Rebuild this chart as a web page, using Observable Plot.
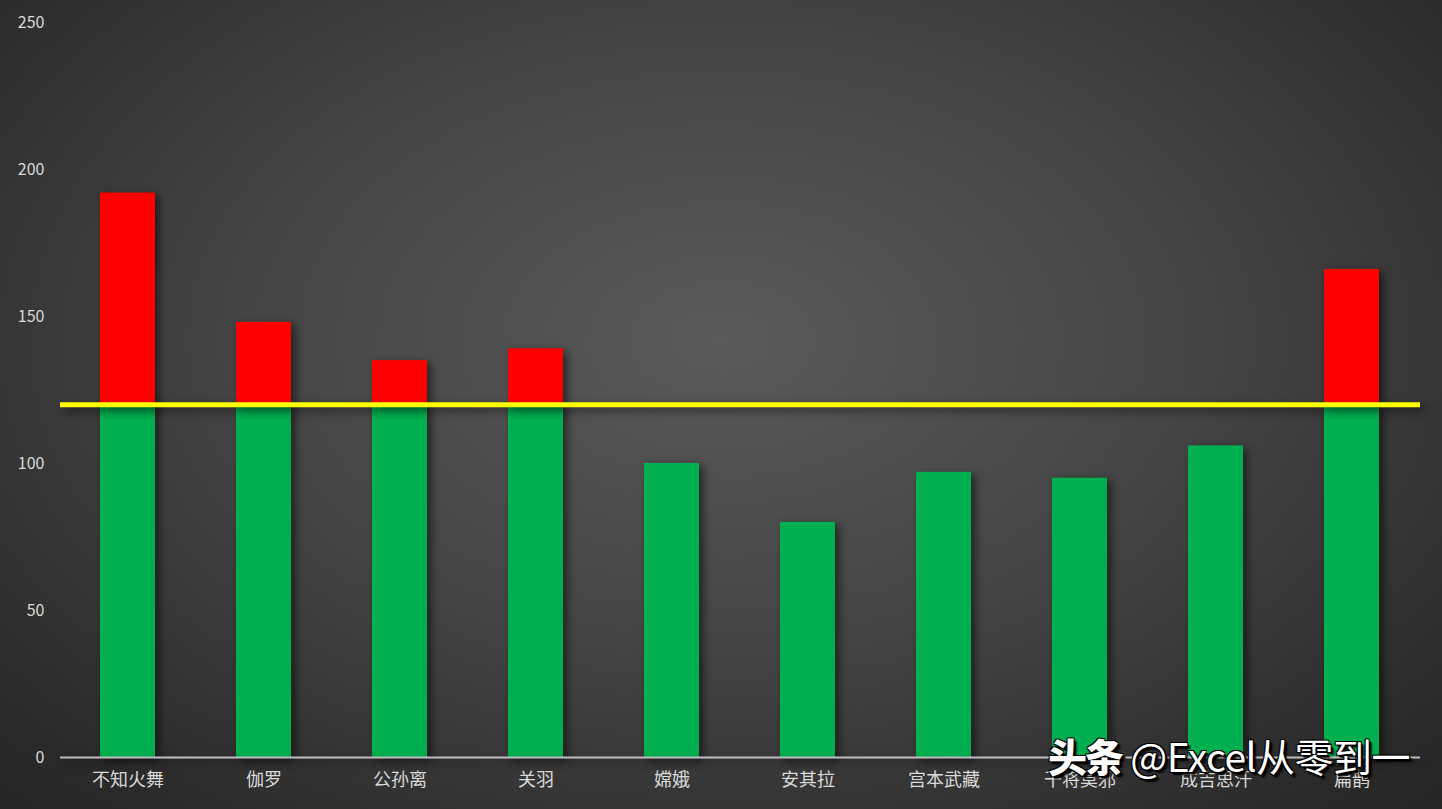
<!DOCTYPE html>
<html>
<head>
<meta charset="utf-8">
<script src="https://cdn.jsdelivr.net/npm/d3@7"></script>
<script src="https://cdn.jsdelivr.net/npm/@observablehq/plot@0.6"></script>
<style>
  html, body { margin: 0; padding: 0; }
  body { width: 1442px; height: 809px; overflow: hidden; }
  #wrap {
    position: relative; width: 1442px; height: 809px;
    background: radial-gradient(ellipse 75% 85% at 50% 42%, #5a5a5a 0%, #444 45%, #2a2a2a 85%, #242424 100%);
    font-family: "Noto Sans CJK SC", "Noto Sans", sans-serif;
  }
  #wrap svg { position: absolute; left: 0; top: 0; background: transparent; }
  #wrap svg g[aria-label="bar"] { filter: drop-shadow(4px 3px 4px rgba(0,0,0,0.55)); }
  #wrap svg g[aria-label="rule"] { filter: drop-shadow(5px 4px 4px rgba(0,0,0,0.5)); }
  #wm {
    position: absolute; left: 1048px; top: 736px;
    font-family: "Noto Sans CJK SC", sans-serif; font-weight: 400; font-size: 39px;
    color: #fff; letter-spacing: -0.5px; line-height: 1;
    text-shadow: 2px 2px 0 #000, -1px -1px 0 #000, 1px -1px 0 #000, -1px 1px 0 #000, 3px 3px 2px #000;
    white-space: nowrap;
  }
  #wm b { font-weight: 900; letter-spacing: -2px; }
</style>
</head>
<body>
<div id="wrap"></div>
<script>
const categories = ["不知火舞", "伽罗", "公孙离", "关羽", "嫦娥", "安其拉", "宫本武藏", "干将莫邪", "成吉思汗", "扁鹊"];
const values = [192, 148, 135, 139, 100, 80, 97, 95, 106, 166];
const threshold = 120;
const yTicks = [0, 50, 100, 150, 200, 250];

const data = categories.map((c, i) => ({ name: c, value: values[i] }));
const below = data.map(d => ({ name: d.name, y1: 0, y2: Math.min(d.value, threshold) }));
const above = data.filter(d => d.value > threshold).map(d => ({ name: d.name, y1: threshold, y2: d.value }));

const chart = Plot.plot({
  width: 1442,
  height: 809,
  marginLeft: 60,
  marginRight: 22,
  marginTop: 22,
  marginBottom: 52,
  style: { background: "transparent", color: "#d9d9d9", fontFamily: "'Noto Sans CJK SC', sans-serif" },
  x: { domain: categories, paddingInner: 0.595, paddingOuter: 0.2975, label: null },
  y: { domain: [0, 250], ticks: yTicks, label: null },
  marks: [
    Plot.axisY({ ticks: yTicks, tickSize: 0, tickPadding: 16, fontSize: 16, fill: "#d9d9d9", label: null }),
    Plot.axisX({ tickSize: 0, tickPadding: 16, fontSize: 18, fill: "#d9d9d9", label: null }),
    Plot.barY(below, { x: "name", y1: "y1", y2: "y2", fill: "#00B050" }),
    Plot.barY(above, { x: "name", y1: "y1", y2: "y2", fill: "#FF0000" }),
    Plot.ruleY([0], { stroke: "#bfbfbf", strokeWidth: 2 }),
    Plot.ruleY([threshold], { stroke: "#FFFF00", strokeWidth: 5 })
  ]
});
const wrap = document.getElementById("wrap");
wrap.appendChild(chart);
const wm = document.createElement("div");
wm.id = "wm";
wm.innerHTML = "<b>头条</b> @Excel从零到一";
wrap.appendChild(wm);
</script>
</body>
</html>
